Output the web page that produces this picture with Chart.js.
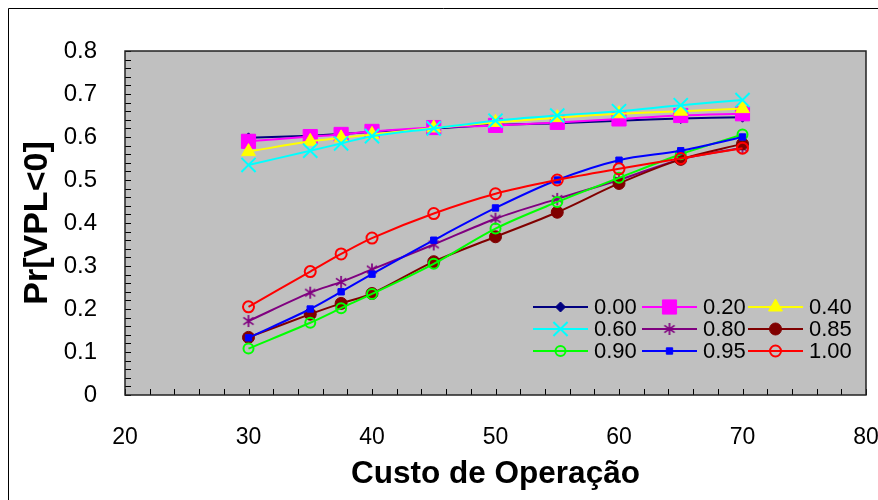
<!DOCTYPE html>
<html>
<head>
<meta charset="utf-8">
<script src="https://cdn.jsdelivr.net/npm/chart.js@4.4.1/dist/chart.umd.min.js"></script>
<style>
  html, body { margin: 0; padding: 0; background: #fff; }
  #wrap { width: 878px; height: 500px; }
</style>
</head>
<body>
<div id="wrap"><canvas id="plotCanvas" width="878" height="500"></canvas></div>
<script>
// Operating cost (x) and probability of negative NPV for each value of the parameter
const custo = [30, 35, 37.5, 40, 45, 50, 55, 60, 65, 70];

const p000 = [0.598, 0.603, 0.607, 0.612, 0.620, 0.628, 0.632, 0.638, 0.643, 0.646];
const p020 = [0.590, 0.601, 0.606, 0.613, 0.622, 0.627, 0.634, 0.642, 0.650, 0.654];
const p040 = [0.566, 0.590, 0.598, 0.606, 0.621, 0.634, 0.645, 0.654, 0.660, 0.666];
const p060 = [0.535, 0.568, 0.585, 0.602, 0.620, 0.638, 0.650, 0.660, 0.674, 0.686];
const p080 = [0.172, 0.238, 0.263, 0.292, 0.350, 0.410, 0.456, 0.500, 0.548, 0.575];
const p085 = [0.134, 0.188, 0.213, 0.236, 0.310, 0.368, 0.425, 0.492, 0.548, 0.584];
const p090 = [0.108, 0.168, 0.202, 0.235, 0.305, 0.387, 0.449, 0.505, 0.560, 0.606];
const p095 = [0.133, 0.200, 0.240, 0.281, 0.360, 0.435, 0.500, 0.546, 0.568, 0.600];
const p100 = [0.205, 0.287, 0.328, 0.365, 0.422, 0.468, 0.500, 0.526, 0.550, 0.574];

const seriesLabels = ["0.00", "0.20", "0.40", "0.60", "0.80", "0.85", "0.90", "0.95", "1.00"];
const seriesValues = [p000, p020, p040, p060, p080, p085, p090, p095, p100];

const xTickValues = [20, 30, 40, 50, 60, 70, 80];
const yTickValues = [0, 0.1, 0.2, 0.3, 0.4, 0.5, 0.6, 0.7, 0.8];

const FONT = "'Liberation Sans', Arial, sans-serif";

// Excel-like asterisk marker (vertical bar + X)
function asterisk(color, size) {
  const c = document.createElement("canvas");
  c.width = size; c.height = size;
  const g = c.getContext("2d");
  const m = size / 2, r = size / 2 - 1;
  g.strokeStyle = color;
  g.lineWidth = 1.7;
  g.beginPath();
  g.moveTo(m, m - r); g.lineTo(m, m + r);
  g.moveTo(m - r * 0.85, m - r * 0.6); g.lineTo(m + r * 0.85, m + r * 0.6);
  g.moveTo(m + r * 0.85, m - r * 0.6); g.lineTo(m - r * 0.85, m + r * 0.6);
  g.stroke();
  return c;
}

const styles = [
  { color: "#000080", fill: "#000080", point: "rectRot", radius: 5, bw: 1 },
  { color: "#FF00FF", fill: "#FF00FF", point: "rect", radius: 10, bw: 1 },
  { color: "#FFFF00", fill: "#FFFF00", point: "triangle", radius: 8, bw: 1 },
  { color: "#00FFFF", fill: "rgba(0,0,0,0)", point: "crossRot", radius: 10, bw: 2 },
  { color: "#800080", fill: "rgba(0,0,0,0)", point: asterisk("#800080", 14), radius: 7, bw: 1 },
  { color: "#800000", fill: "#800000", point: "circle", radius: 6, bw: 1 },
  { color: "#00FF00", fill: "rgba(0,0,0,0)", point: "circle", radius: 5, bw: 2 },
  { color: "#0000FF", fill: "#0000FF", point: "rect", radius: 4.5, bw: 1 },
  { color: "#FF0000", fill: "rgba(0,0,0,0)", point: "circle", radius: 5.5, bw: 2 }
];

const datasets = seriesValues.map((vals, i) => ({
  label: seriesLabels[i],
  data: vals.map((v, j) => ({ x: custo[j], y: v })),
  borderColor: styles[i].color,
  backgroundColor: styles[i].fill,
  borderWidth: 2,
  pointStyle: styles[i].point,
  pointRadius: styles[i].radius,
  pointBorderWidth: styles[i].bw,
  pointBorderColor: styles[i].color,
  pointBackgroundColor: styles[i].fill,
  tension: 0.33,
  fill: false,
  order: seriesValues.length - i
}));

// gray plot area, border, inward tick marks, outer frame
const plotFrame = {
  id: "plotFrame",
  beforeDatasetsDraw(chart) {
    const { ctx, chartArea: a } = chart;
    ctx.save();
    ctx.fillStyle = "#C0C0C0";
    ctx.fillRect(a.left, a.top, a.right - a.left, a.bottom - a.top);
    ctx.restore();
  },
  afterDatasetsDraw(chart) {
    const { ctx, chartArea: a, scales } = chart;
    ctx.save();
    ctx.strokeStyle = "#000";
    ctx.lineWidth = 1;
    ctx.beginPath();
    for (let v = 20; v <= 80; v += 2) {
      const px = Math.round(scales.x.getPixelForValue(v)) + 0.5;
      ctx.moveTo(px, a.bottom);
      ctx.lineTo(px, a.bottom - 6);
    }
    for (let k = 0; k <= 40; k++) {
      const py = Math.round(scales.y.getPixelForValue(k * 0.02)) + 0.5;
      ctx.moveTo(a.left, py);
      ctx.lineTo(a.left + 6, py);
    }
    ctx.stroke();
    ctx.lineWidth = 1.5;
    ctx.strokeStyle = "#222";
    ctx.strokeRect(a.left, a.top, a.right - a.left, a.bottom - a.top);
    // chart frame
    ctx.lineWidth = 1;
    ctx.strokeStyle = "#000";
    ctx.beginPath();
    ctx.moveTo(8.5, chart.height);
    ctx.lineTo(8.5, 8.5);
    ctx.lineTo(chart.width, 8.5);
    ctx.stroke();
    ctx.restore();
  }
};

// legend: 3 columns x 3 rows inside the plot area
const gridLegend = {
  id: "gridLegend",
  afterDraw(chart) {
    const { ctx } = chart;
    const colX = [533, 642, 748];
    const rowY = [307, 329, 351];
    const lineLen = 55;
    ctx.save();
    ctx.font = "22px " + FONT;
    ctx.textBaseline = "middle";
    ctx.textAlign = "left";
    chart.data.datasets.forEach((ds, i) => {
      const x = colX[i % 3], y = rowY[Math.floor(i / 3)];
      ctx.strokeStyle = ds.borderColor;
      ctx.lineWidth = 2;
      ctx.beginPath();
      ctx.moveTo(x, y);
      ctx.lineTo(x + lineLen, y);
      ctx.stroke();
      ctx.fillStyle = ds.pointBackgroundColor;
      ctx.lineWidth = ds.pointBorderWidth;
      Chart.helpers.drawPoint(ctx, {
        pointStyle: ds.pointStyle,
        radius: ds.pointRadius,
        rotation: 0,
        borderWidth: ds.pointBorderWidth
      }, x + lineLen / 2, y);
      ctx.fillStyle = "#000";
      ctx.fillText(ds.label, x + lineLen + 6, y + 1);
    });
    ctx.restore();
  }
};

const ctx = document.getElementById("plotCanvas").getContext("2d");
const chart = new Chart(ctx, {
  type: "line",
  data: { datasets: datasets },
  plugins: [plotFrame, gridLegend],
  options: {
    responsive: false,
    devicePixelRatio: 1,
    animation: false,
    layout: { padding: { top: 51, right: 11, bottom: 0, left: 0 } },
    plugins: {
      legend: { display: false },
      tooltip: { enabled: false }
    },
    scales: {
      x: {
        type: "linear",
        min: 20,
        max: 80,
        afterBuildTicks: s => { s.ticks = xTickValues.map(v => ({ value: v })); },
        afterFit: s => { s.height = 105; s.paddingLeft = 0; s.paddingRight = 0; },
        grid: { display: false },
        border: { display: false },
        ticks: {
          color: "#000",
          padding: 21,
          maxRotation: 0,
          font: { family: FONT, size: 23 }
        },
        title: {
          display: true,
          text: "Custo de Operação",
          color: "#000",
          padding: { top: 0, bottom: 7 },
          font: { family: FONT, size: 31.5, weight: "bold" }
        }
      },
      y: {
        min: 0,
        max: 0.8,
        afterBuildTicks: s => { s.ticks = yTickValues.map(v => ({ value: v })); },
        afterFit: s => { s.width = 125; },
        grid: { display: false },
        border: { display: false },
        ticks: {
          color: "#000",
          padding: 20,
          callback: v => (v === 0 ? "0" : v.toFixed(1)),
          font: { family: FONT, size: 24 }
        },
        title: {
          display: true,
          text: "Pr[VPL<0]",
          color: "#000",
          padding: { top: 17, bottom: 0 },
          font: { family: FONT, size: 34, weight: "bold" }
        }
      }
    }
  }
});
</script>
</body>
</html>
